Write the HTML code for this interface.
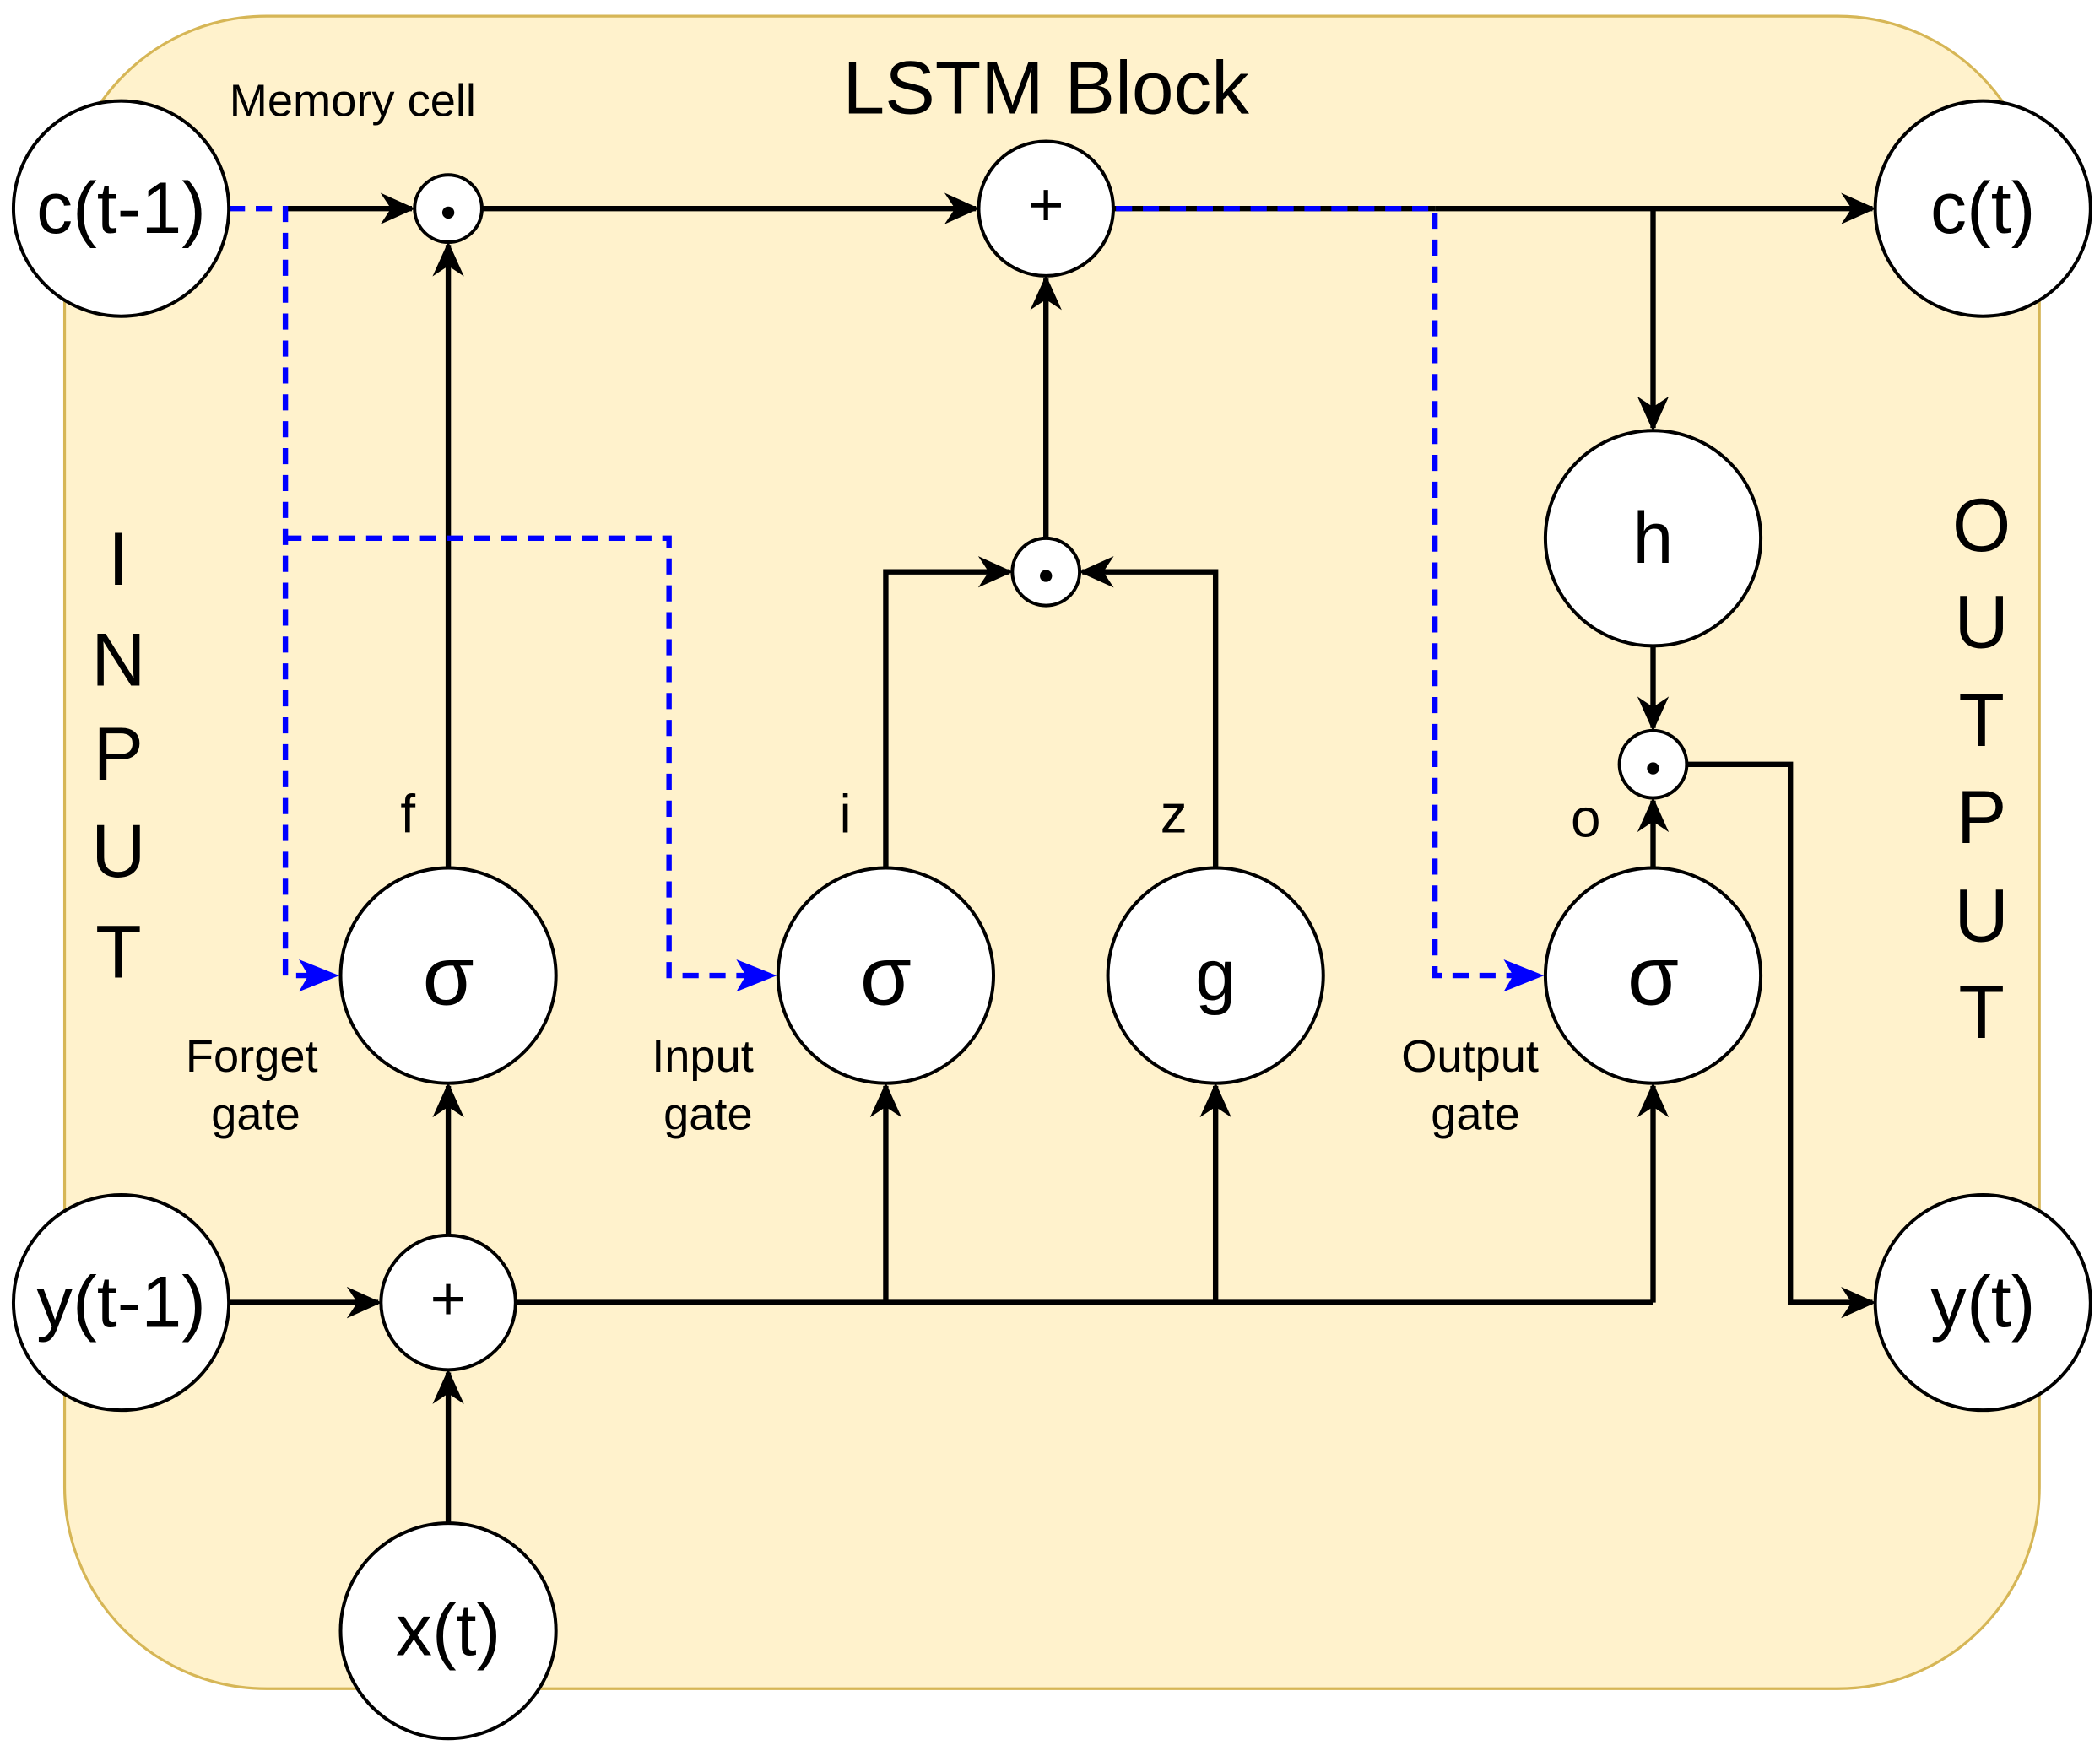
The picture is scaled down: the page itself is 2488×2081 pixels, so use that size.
<!DOCTYPE html>
<html><head><meta charset="utf-8"><style>
html,body{margin:0;padding:0;background:#fff;}
svg{display:block;}
text{font-family:"Liberation Sans",sans-serif;fill:#000;text-anchor:middle;dominant-baseline:central;}
</style></head><body>
<svg width="2488" height="2081" viewBox="0 0 1560 1305" preserveAspectRatio="none" xmlns="http://www.w3.org/2000/svg">
<defs>
<marker id="a" viewBox="0 0 10 10" refX="9" refY="5" markerWidth="26" markerHeight="26" markerUnits="userSpaceOnUse" orient="auto"><path d="M0,0.5 L10,5 L0,9.5 L3,5 z" fill="#000"/></marker>
</defs>
<style>
.l{stroke:#000;stroke-width:4;fill:none;marker-end:url(#a);}
.n{stroke:#000;stroke-width:4;fill:none;}
.b{stroke:#0000ff;stroke-width:4;fill:none;stroke-dasharray:12 8;}
.c{fill:#fff;stroke:#000;stroke-width:2.5;}
</style>
<rect x="48" y="12" width="1467" height="1243" rx="150" fill="#fff2cc" stroke="#d6b656" stroke-width="2"/>

<!-- black -->
<path class="l" d="M212,155 H306"/>
<path class="l" d="M358,155 H725"/>
<path class="n" d="M827,155 H1066"/>
<path class="l" d="M1066,155 H1391"/>
<path class="l" d="M1228,155 V318"/>
<path class="l" d="M1228,480 V541"/>
<path class="l" d="M1253,568 H1330 V968 H1391"/>
<path class="l" d="M1228,645 V595"/>
<path class="l" d="M333,645 V182"/>
<path class="l" d="M777,400 V207"/>
<path class="l" d="M658,645 V425 H750"/>
<path class="l" d="M903,645 V425 H804"/>
<path class="l" d="M170,968 H281"/>
<path class="l" d="M333,1132 V1020"/>
<path class="l" d="M333,918 V807"/>
<path class="n" d="M383,968 H1228"/>
<path class="l" d="M658,968 V807"/>
<path class="l" d="M903,968 V807"/>
<path class="l" d="M1228,968 V807"/>

<!-- blue dashed -->
<path class="b" d="M170,155 H212 V725 H236"/>
<path class="b" d="M212,400 H497 V725 H560"/>
<path class="b" d="M829,155 H1066 V725 H1130"/>
<path d="M222,713 L252,725 L222,737 L229,725z" fill="#0000ff"/>
<path d="M547,713 L577,725 L547,737 L554,725z" fill="#0000ff"/>
<path d="M1117,713 L1147,725 L1117,737 L1124,725z" fill="#0000ff"/>

<!-- nodes -->
<circle class="c" cx="90" cy="155" r="80"/>
<circle class="c" cx="1473" cy="155" r="80"/>
<circle class="c" cx="90" cy="968" r="80"/>
<circle class="c" cx="1473" cy="968" r="80"/>
<circle class="c" cx="333" cy="1212" r="80"/>
<circle class="c" cx="333" cy="155" r="25"/>
<circle class="c" cx="777" cy="155" r="50"/>
<circle class="c" cx="777" cy="425" r="25"/>
<circle class="c" cx="1228" cy="400" r="80"/>
<circle class="c" cx="1228" cy="568" r="25"/>
<circle class="c" cx="333" cy="725" r="80"/>
<circle class="c" cx="658" cy="725" r="80"/>
<circle class="c" cx="903" cy="725" r="80"/>
<circle class="c" cx="1228" cy="725" r="80"/>
<circle class="c" cx="333" cy="968" r="50"/>
<circle cx="333" cy="158" r="4.5"/>
<circle cx="777" cy="428" r="4.5"/>
<circle cx="1228" cy="571" r="4.5"/>

<g font-size="54">
<text x="90" y="155">c(t-1)</text>
<text x="1473" y="155">c(t)</text>
<text x="90" y="968">y(t-1)</text>
<text x="1473" y="968">y(t)</text>
<text x="333" y="1212">x(t)</text>
<text x="1228" y="400">h</text>
<text x="903" y="725">g</text>
<text x="777" y="152" font-size="46">+</text>
<text x="333" y="965" font-size="46">+</text>
</g>
<g font-size="62">
<text x="333" y="725">σ</text>
<text x="658" y="725">σ</text>
<text x="1228" y="725">σ</text>
</g>
<text x="777" y="65" font-size="56">LSTM Block</text>
<text x="262" y="75" font-size="34">Memory cell</text>
<g font-size="40">
<text x="303" y="605">f</text>
<text x="628" y="605">i</text>
<text x="872" y="605">z</text>
<text x="1178" y="608">o</text>
</g>
<g font-size="34">
<text x="187" y="785">Forget</text><text x="190" y="828">gate</text>
<text x="522" y="785">Input</text><text x="526" y="828">gate</text>
<text x="1092" y="785">Output</text><text x="1096" y="828">gate</text>
</g>
<g font-size="56">
<text x="88" y="415">I</text><text x="88" y="490">N</text><text x="88" y="560">P</text><text x="88" y="632">U</text><text x="88" y="707">T</text>
<text x="1472" y="390">O</text><text x="1472" y="462">U</text><text x="1472" y="535">T</text><text x="1472" y="607">P</text><text x="1472" y="680">U</text><text x="1472" y="752">T</text>
</g>
</svg>
</body></html>
